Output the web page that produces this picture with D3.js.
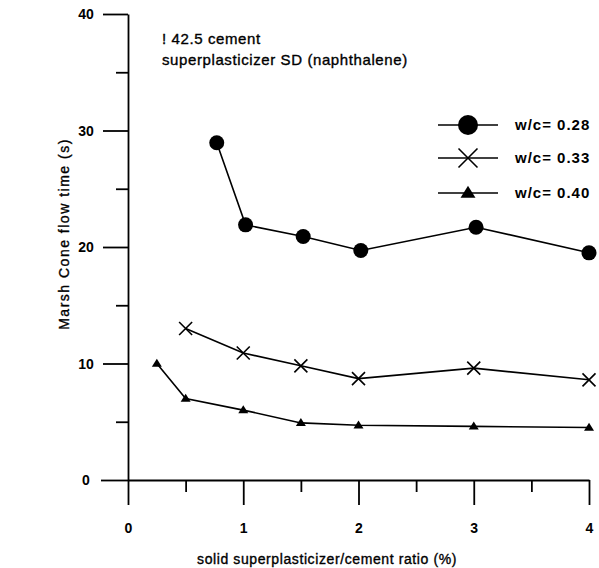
<!DOCTYPE html>
<html>
<head>
<meta charset="utf-8">
<script src="https://cdn.jsdelivr.net/npm/d3@7"></script>
<style>
  body { margin: 0; background: #fff; }
  svg { display: block; font-family: "Liberation Sans", Arial, sans-serif; }
  .axis path, .axis line { stroke: #000; stroke-width: 1.8; }
  .axis text { font-size: 14px; font-weight: bold; fill: #000; }
  .label { fill: #000; stroke: #000; stroke-width: 0.35px; }
</style>
</head>
<body>
<svg id="chart" width="599" height="568"></svg>
<script>
// values
const xTicks = [0, 1, 2, 3, 4];
const xMinor = [0.5, 1.5, 2.5, 3.5];
const yTicks = [0, 10, 20, 30, 40];
const yMinor = [5, 15, 25, 35];
const seriesNames = ["w/c= 0.28", "w/c= 0.33", "w/c= 0.40"];
const markers = ["circle", "cross", "triangle"];
const ratio028 = [0.77, 1.02, 1.52, 2.02, 3.02, 4.0];
const time028 = [28.95, 21.9, 20.9, 19.7, 21.7, 19.5];
const ratio033 = [0.5, 1, 1.5, 2, 3, 4];
const time033 = [13.0, 10.9, 9.8, 8.7, 9.6, 8.6];
const ratio040 = [0.25, 0.5, 1, 1.5, 2, 3, 4];
const time040 = [10.0, 7.0, 6.0, 4.9, 4.7, 4.6, 4.5];
const titleLines = ["! 42.5 cement", "superplasticizer SD (naphthalene)"];

const series = [
  { name: seriesNames[0], marker: markers[0], pts: ratio028.map((r, i) => [r, time028[i]]) },
  { name: seriesNames[1], marker: markers[1], pts: ratio033.map((r, i) => [r, time033[i]]) },
  { name: seriesNames[2], marker: markers[2], pts: ratio040.map((r, i) => [r, time040[i]]) },
];

const svg = d3.select("#chart");
const x = d3.scaleLinear().domain([0, 4]).range([128, 589]);
const y = d3.scaleLinear().domain([0, 40]).range([480, 14]);

// x axis, major + minor ticks pointing down
const gx = svg.append("g").attr("class", "axis").attr("transform", "translate(0,480)")
  .call(d3.axisBottom(x).tickValues(xTicks).tickSize(25).tickSizeOuter(0).tickFormat(d3.format("d")));
gx.selectAll("text").attr("y", 48).attr("dy", "0.35em");
svg.append("g").attr("class", "axis").attr("transform", "translate(0,480)")
  .call(d3.axisBottom(x).tickValues(xMinor).tickSize(12).tickFormat(""))
  .select(".domain").remove();

// y axis
const gy = svg.append("g").attr("class", "axis").attr("transform", "translate(" + x(0) + ",0)")
  .call(d3.axisLeft(y).tickValues(yTicks).tickSize(25).tickSizeOuter(0));
gy.selectAll("text").attr("x", -42).attr("text-anchor", "middle").attr("dy", "0.35em");
gy.selectAll(".tick").filter(d => d === 0).select("line").attr("x2", -27);
svg.append("g").attr("class", "axis").attr("transform", "translate(" + x(0) + ",0)")
  .call(d3.axisLeft(y).tickValues(yMinor).tickSize(12).tickFormat(""))
  .select(".domain").remove();

function drawMarker(g, type, cx, cy, s) {
  if (type === "circle") {
    g.append("circle").attr("cx", cx).attr("cy", cy).attr("r", s).attr("fill", "#000");
  } else if (type === "cross") {
    g.append("path")
      .attr("d", `M${cx - s},${cy - s}L${cx + s},${cy + s}M${cx - s},${cy + s}L${cx + s},${cy - s}`)
      .attr("stroke", "#000").attr("stroke-width", 1.6).attr("fill", "none");
  } else {
    const h = s * 1.6;
    g.append("path")
      .attr("d", `M${cx},${cy - h * 0.6}L${cx + s},${cy + h * 0.4}L${cx - s},${cy + h * 0.4}Z`)
      .attr("fill", "#000");
  }
}

const line = d3.line().x(d => x(d[0])).y(d => y(d[1]));
const markSize = { circle: 7.5, cross: 6.5, triangle: 5 };
series.forEach(s => {
  const g = svg.append("g");
  g.append("path").attr("d", line(s.pts))
    .attr("fill", "none").attr("stroke", "#000").attr("stroke-width", 1.6);
  s.pts.forEach(p => drawMarker(g, s.marker, x(p[0]), y(p[1]), markSize[s.marker]));
});

// legend
const legendSize = { circle: 10, cross: 9.5, triangle: 7.5 };
const legendY = [125, 158, 193];
series.forEach((s, i) => {
  const g = svg.append("g");
  g.append("line").attr("x1", 438).attr("x2", 498).attr("y1", legendY[i]).attr("y2", legendY[i])
    .attr("stroke", "#000").attr("stroke-width", 1.5);
  drawMarker(g, s.marker, 468, legendY[i], legendSize[s.marker]);
  g.append("text").attr("x", 515).attr("y", legendY[i]).attr("dy", "0.35em")
    .style("font-size", "15px").style("font-weight", "bold").style("letter-spacing", "1px")
    .text(s.name);
});

// annotation
svg.selectAll(".title").data(titleLines).enter().append("text")
  .attr("class", "label")
  .attr("x", 162).attr("y", (d, i) => 44 + i * 21)
  .style("font-size", "15px").style("letter-spacing", "0.6px")
  .text(d => d);

// axis titles
svg.append("text").attr("class", "label").attr("x", 327).attr("y", 564).attr("text-anchor", "middle")
  .style("font-size", "14px").style("letter-spacing", "0.6px")
  .text("solid superplasticizer/cement ratio (%)");
svg.append("text").attr("class", "label").attr("transform", "translate(69,234) rotate(-90)").attr("text-anchor", "middle")
  .style("font-size", "14px").style("letter-spacing", "1.5px")
  .text("Marsh Cone flow time (s)");
</script>
</body>
</html>
